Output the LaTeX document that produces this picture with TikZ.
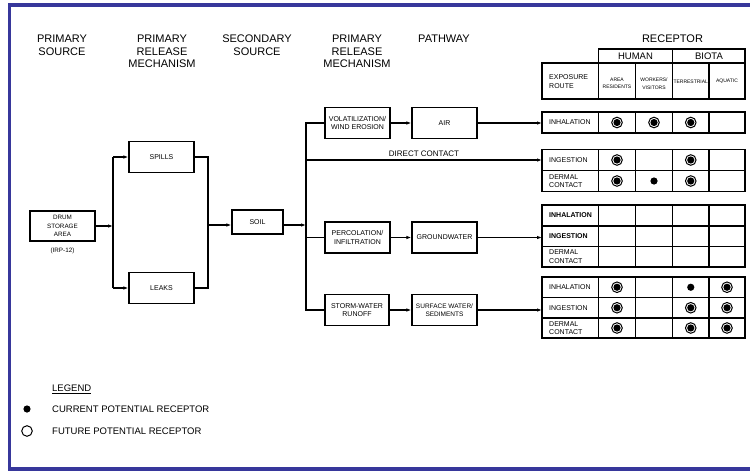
\documentclass[tikz,border=0pt]{standalone}
\usepackage{fontspec}
\setmainfont{Liberation Sans}
\usetikzlibrary{arrows.meta}
\definecolor{framebl}{RGB}{55,55,155}
\begin{document}
\begin{tikzpicture}[x=1pt,y=-1pt,
    hdr/.style={anchor=north,inner sep=0,align=center,font=\fontsize{11}{12.6}\selectfont},
    box/.style={draw,line width=1.1pt,minimum width=65pt,minimum height=31pt,inner sep=1pt,align=center,font=\fontsize{7}{8.3}\selectfont},
    wire/.style={line width=1.2pt},
    arr/.style={wire,-{Latex[length=5pt,width=3.5pt]}},
    cell/.style={line width=1.1pt},
    lbl/.style={anchor=west,inner sep=0,align=left,font=\fontsize{7}{8.3}\selectfont},
    tiny/.style={inner sep=0,align=center,font=\fontsize{5}{7.5}\selectfont},
    legtxt/.style={anchor=west,inner sep=0,font=\fontsize{9.5}{11}\selectfont},
    both/.pic={\draw[line width=1pt] (0,0) circle (5.3pt); \fill (0,0) circle (3.6pt);},
    cur/.pic={\fill (0,0) circle (3.6pt);}]
    \useasboundingbox (0,0) rectangle (750,471);
    \draw[framebl,line width=3.5pt] (752,5) -- (9.5,5) -- (9.5,469) -- (752,469);
    % column heads
    \node[hdr] (h1) at (62,35) {PRIMARY\\SOURCE};
    \node[hdr] (h2) at (162,35) {PRIMARY\\RELEASE\\MECHANISM};
    \node[hdr] (h3) at (257,35) {SECONDARY\\SOURCE};
    \node[hdr] (h4) at (357,35) {PRIMARY\\RELEASE\\MECHANISM};
    \node[hdr] (h5) at (444,35) {PATHWAY};
    \node[hdr] (h6) at (672.5,35) {RECEPTOR};
    % flow boxes
    \node[box,font=\fontsize{6.3}{8.6}\selectfont,minimum height=30pt] (drum) at (62.5,226) {DRUM\\STORAGE\\AREA};
    \node[tiny,font=\fontsize{6.3}{8}\selectfont] (irp) at (62.5,251) {(IRP-12)};
    \node[box] (spills) at (161.5,157) {SPILLS};
    \node[box] (leaks) at (161.5,288) {LEAKS};
    \node[box,minimum width=51pt,minimum height=24pt] (soil) at (257.5,222) {SOIL};
    \node[box] (volat) at (357.5,123) {VOLATILIZATION/\\WIND EROSION};
    \node[box] (air) at (444.5,123) {AIR};
    \node[box] (percol) at (357.5,237.5) {PERCOLATION/\\INFILTRATION};
    \node[box] (ground) at (444.5,237.5) {GROUNDWATER};
    \node[box,minimum width=64pt] (storm) at (357,310) {STORM-WATER\\RUNOFF};
    \node[box,font=\fontsize{6.5}{7.6}\selectfont] (surf) at (444.5,310) {SURFACE WATER/\\SEDIMENTS};
    \coordinate (bus) at (113,226);
    \coordinate (jn) at (208,225);
    \coordinate (trk) at (306,225);
    \coordinate (tab) at (542,0);
    % connectors
    \draw[arr] (drum) -- (bus);
    \draw[wire] (spills.west -| bus) -- (leaks.west -| bus);
    \draw[arr] (spills.west -| bus) -- (spills);
    \draw[arr] (leaks.west -| bus) -- (leaks);
    \draw[wire] (spills) -| (jn) |- (leaks);
    \draw[arr] (jn) -- (jn -| soil.west);
    \draw[arr] (soil.east |- jn) -- (trk);
    \draw[wire] (volat) -| (trk) |- (storm);
    \draw[wire] (percol) -- (percol -| trk);
    \draw[arr] (volat) -- (air);
    \draw[arr] (percol) -- (ground);
    \draw[arr] (storm) -- (surf);
    % table
    \draw[cell] (598.5,49) rectangle (745,63);
    \draw[cell] (672.5,49) -- (672.5,63);
    \foreach \ya/\yb in {63/99,112/133,149.5/191.5,205/267,277/338}{
        \draw[cell] (542,\ya) rectangle (745,\yb);
        \foreach \cx in {598.5,635.5,672.5,709}
            \draw[cell] (\cx,\ya) -- (\cx,\yb);
    }
    \foreach \yy in {170.5,226,246.5,297.5,318}
        \draw[cell] (542,\yy) -- (745,\yy);
    \node[inner sep=0,font=\fontsize{9.5}{11}\selectfont] (human) at (635.5,56.5) {HUMAN};
    \node[inner sep=0,font=\fontsize{9.5}{11}\selectfont] (biota) at (709,56.5) {BIOTA};
    \node[lbl] (expo) at (549,81.5) {EXPOSURE\\ROUTE};
    \node[tiny] (resid) at (617,83.5) {AREA\\RESIDENTS};
    \node[tiny] (work) at (654,83.5) {WORKERS/\\VISITORS};
    \node[tiny] (terr) at (690.75,81.5) {TERRESTRIAL};
    \node[tiny] (aqua) at (727,81.5) {AQUATIC};
    \node[lbl] (inh1) at (549,122.5) {INHALATION};
    \node[lbl] (ing2) at (549,160) {INGESTION};
    \node[lbl] (der2) at (549,181) {DERMAL\\CONTACT};
    \node[lbl,font=\bfseries\fontsize{7}{8.3}\selectfont] (inh3) at (549,215.5) {INHALATION};
    \node[lbl,font=\bfseries\fontsize{7}{8.3}\selectfont] (ing3) at (549,236.25) {INGESTION};
    \node[lbl] (der3) at (549,256.75) {DERMAL\\CONTACT};
    \node[lbl] (inh4) at (549,287.25) {INHALATION};
    \node[lbl] (ing4) at (549,307.75) {INGESTION};
    \node[lbl] (der4) at (549,328) {DERMAL\\CONTACT};
    % pathways into the table
    \draw[arr] (air) -- (air -| tab);
    \draw[arr] (trk |- ing2) -- (ing2 -| tab)
        node[pos=0.5,above=3pt,inner sep=0,font=\fontsize{8}{9}\selectfont] (dc) {DIRECT CONTACT};
    \draw[arr] (ground) -- (ground -| tab);
    \draw[arr] (surf) -- (surf -| tab);
    % receptors
    \foreach \px/\py in {617/122.5,654/122.5,690.75/122.5,617/160,690.75/160,617/181,690.75/181,
        617/287.25,727/287.25,617/307.75,690.75/307.75,727/307.75,617/328,690.75/328,727/328}
        \pic at (\px,\py) {both};
    \foreach \px/\py in {654/181,690.75/287.25}
        \pic at (\px,\py) {cur};
    % legend
    \node[legtxt] (leg) at (52,389) {\underline{LEGEND}};
    \fill (27,409) circle (3.6pt);
    \node[legtxt] (curr) at (52,409) {CURRENT POTENTIAL RECEPTOR};
    \draw[line width=1pt] (27,431) circle (5.3pt);
    \node[legtxt] (fut) at (52,431) {FUTURE POTENTIAL RECEPTOR};
\end{tikzpicture}
\end{document}
